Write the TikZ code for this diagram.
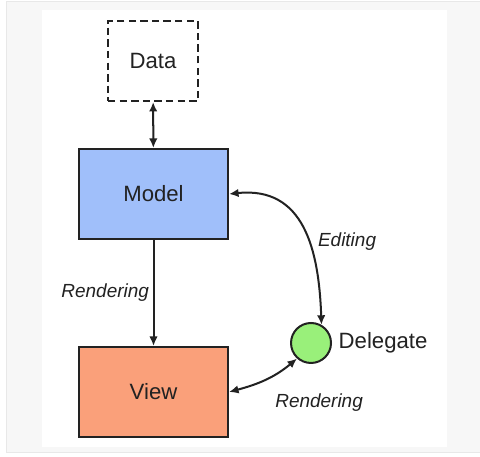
\documentclass[tikz,border=0pt]{standalone}
\usepackage{fontspec}
\setmainfont{Liberation Sans}
\usepackage{tikz}
\usetikzlibrary{arrows.meta}
\definecolor{modelblue}{RGB}{160,191,250}
\definecolor{viewred}{RGB}{250,160,122}
\definecolor{delgreen}{RGB}{153,240,122}
\definecolor{ink}{RGB}{34,34,34}
\tikzset{box/.style={shape=rectangle, draw=ink, line width=1.9pt,
    minimum width=4.97cm, minimum height=3cm,
    font=\fontsize{21}{25}\selectfont, text=ink}}
\tikzset{lbl/.style={font=\fontsize{18}{22}\selectfont\itshape, text=ink}}
\tikzset{link/.style={draw=ink, line width=1.9pt, >={Latex[length=9pt,width=8pt]}}}

\begin{document}
\begin{tikzpicture}
        \useasboundingbox (0,0) rectangle (16,15.233);
        \fill[white] (0,0) rectangle (16,15.233);
        \draw[fill=black!3, draw=black!9, line width=0.6pt] (0.2,0.167) rectangle (16.3,15.2);
        \fill[white] (1.4,0.333) rectangle (14.9,14.9);

                    \node[box, dashed, dash pattern=on 7pt off 4pt, minimum width=3cm, minimum height=2.667cm] (D) at (5.1,13.2) {Data};
                    \node[box, fill=modelblue] (M) at (5.117,8.767) {Model};
                    \node[box, fill=viewred] (V) at (5.117,2.167) {View};
                    \node[shape=circle, draw=ink, fill=delgreen, line width=1.9pt, minimum size=1.333cm,
                        label={[font=\fontsize{21}{25}\selectfont, text=ink, label distance=1mm]right:Delegate}] (G) at (10.367,3.8) {};

                    \draw[link, <->] (D) -- (M);
                    \draw[link, ->] (M) -- (V) node[midway, left, lbl] {Rendering};
                    \draw[link, <->] (M.east) to[out=6, in=92, looseness=1.2] node[pos=0.55, right=7pt, yshift=-0.2cm, lbl] {Editing} (G.60);
                    \draw[link, <->] (V.east) to[out=15, in=220] node[pos=0.55, anchor=north west, shift={(0.08,-0.38)}, lbl] {Rendering} (G.228);

                \end{tikzpicture}
\end{document}
